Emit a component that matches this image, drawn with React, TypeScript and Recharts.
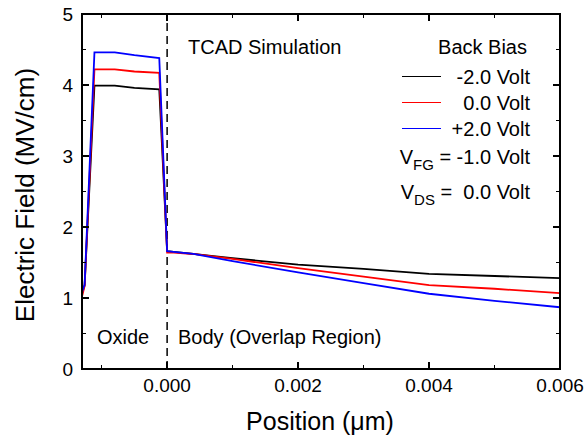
import { LineChart, Line, XAxis, YAxis, ReferenceLine } from "recharts";

// position in µm, field in MV/cm
const position = [
  -0.0013, -0.00126, -0.00111, -0.0008, -0.0005, -0.00012, 0, 0.0001, 0.0004,
  0.001, 0.002, 0.003, 0.004, 0.005, 0.006,
];
const biasMinus2 = [
  1.06, 1.18, 3.99, 3.99, 3.96, 3.94, 1.66, 1.65, 1.62, 1.56, 1.47, 1.41, 1.34,
  1.31, 1.28,
];
const bias0 = [
  1.02, 1.17, 4.22, 4.22, 4.19, 4.17, 1.64, 1.64, 1.62, 1.55, 1.42, 1.3, 1.18,
  1.13, 1.07,
];
const biasPlus2 = [
  1.08, 1.19, 4.46, 4.46, 4.42, 4.38, 1.66, 1.65, 1.62, 1.52, 1.36, 1.21, 1.06,
  0.96, 0.87,
];

const xTicks = [-0.001, 0, 0.001, 0.002, 0.003, 0.004, 0.005, 0.006];
const xLabeled = [0, 0.002, 0.004, 0.006];
const yTicks = [0, 0.5, 1, 1.5, 2, 2.5, 3, 3.5, 4, 4.5, 5];
const yLabeled = [0, 1, 2, 3, 4, 5];

const series = [
  { key: "m2", label: "-2.0 Volt", color: "#000000" },
  { key: "z0", label: "0.0 Volt", color: "#ff0000" },
  { key: "p2", label: "+2.0 Volt", color: "#0000ff" },
];

const data = position.map((x, i) => ({
  x,
  m2: biasMinus2[i],
  z0: bias0[i],
  p2: biasPlus2[i],
}));

const X_DOM = [-0.0013, 0.006];
const Y_DOM = [0, 5];
const W = 584;
const H = 439;
const M = { top: 14, right: 24, bottom: 0, left: 0 };
const Y_AXIS_W = 82;
const X_AXIS_H = 70;
const PLOT_L = M.left + Y_AXIS_W;
const PLOT_T = M.top;
const PLOT_W = W - M.left - M.right - Y_AXIS_W;
const PLOT_H = H - M.top - M.bottom - X_AXIS_H;
const PLOT_R = PLOT_L + PLOT_W;
const PLOT_B = PLOT_T + PLOT_H;

// same linear mapping as the chart axes, used for the boxed frame ticks
const sx = (v: number) => PLOT_L + ((v - X_DOM[0]) / (X_DOM[1] - X_DOM[0])) * PLOT_W;
const sy = (v: number) => PLOT_B - ((v - Y_DOM[0]) / (Y_DOM[1] - Y_DOM[0])) * PLOT_H;

const FONT = "'Liberation Sans', Arial, sans-serif";
const isIn = (list: number[], v: number) =>
  list.some((t) => Math.abs(t - v) < 1e-9);

const BottomLabel = ({ x, y, payload }: any) =>
  isIn(xLabeled, payload.value) ? (
    <text x={x} y={y + 23} textAnchor="middle" fontSize={19} fill="#000" fontFamily={FONT}>
      {payload.value.toFixed(3)}
    </text>
  ) : (
    <g />
  );

const LeftLabel = ({ x, y, payload }: any) =>
  isIn(yLabeled, payload.value) ? (
    <text x={x - 9} y={y + 7} textAnchor="end" fontSize={19} fill="#000" fontFamily={FONT}>
      {payload.value}
    </text>
  ) : (
    <g />
  );

const txt = (extra: React.CSSProperties): React.CSSProperties => ({
  position: "absolute",
  whiteSpace: "pre",
  lineHeight: 1,
  fontSize: 20,
  color: "#000",
  transform: "translateY(-50%)",
  ...extra,
});

const sub: React.CSSProperties = { fontSize: 15, position: "relative", top: 6 };

const bar = (left: number, top: number, width: number, height: number): React.CSSProperties => ({
  position: "absolute",
  left,
  top,
  width,
  height,
  background: "#000",
});

// box frame with inward ticks on all four sides
function Frame() {
  return (
    <>
      <div
        style={{
          position: "absolute",
          left: PLOT_L - 1,
          top: PLOT_T - 1,
          width: PLOT_W + 2,
          height: PLOT_H + 2,
          border: "2px solid #000",
          boxSizing: "border-box",
        }}
      />
      {xTicks.map((t) => {
        const len = isIn(xLabeled, t) ? 7 : 4;
        const x = sx(t) - 0.75;
        return (
          <div key={`x${t}`}>
            <div style={bar(x, PLOT_B - len, 1.5, len)} />
            <div style={bar(x, PLOT_T, 1.5, len)} />
          </div>
        );
      })}
      {yTicks.map((t) => {
        const len = isIn(yLabeled, t) ? 7 : 4;
        const y = sy(t) - 0.75;
        return (
          <div key={`y${t}`}>
            <div style={bar(PLOT_L, y, len, 1.5)} />
            <div style={bar(PLOT_R - len, y, len, 1.5)} />
          </div>
        );
      })}
    </>
  );
}

export default function App() {
  return (
    <div
      style={{
        position: "absolute",
        left: 0,
        top: 0,
        width: W,
        height: H,
        fontFamily: FONT,
      }}
    >
      <LineChart width={W} height={H} data={data} margin={M}>
        <XAxis
          dataKey="x"
          type="number"
          domain={X_DOM}
          allowDataOverflow
          ticks={xTicks}
          interval={0}
          height={X_AXIS_H}
          tickSize={0.01}
          tickMargin={0}
          tickLine={false}
          axisLine={false}
          tick={<BottomLabel />}
        />
        <YAxis
          type="number"
          domain={Y_DOM}
          allowDataOverflow
          ticks={yTicks}
          interval={0}
          width={Y_AXIS_W}
          tickSize={0.01}
          tickMargin={0}
          tickLine={false}
          axisLine={false}
          tick={<LeftLabel />}
        />

        <ReferenceLine x={0} stroke="#000" strokeWidth={1.5} strokeDasharray="8 5" />

        {series.map((s) => (
          <Line
            key={s.key}
            type="linear"
            dataKey={s.key}
            stroke={s.color}
            strokeWidth={1.8}
            dot={false}
            isAnimationActive={false}
          />
        ))}
      </LineChart>

      <Frame />

      {/* axis titles */}
      <div
        style={{
          position: "absolute",
          left: 25,
          top: 195,
          fontSize: 26,
          whiteSpace: "nowrap",
          lineHeight: 1,
          transform: "translate(-50%, -50%) rotate(-90deg)",
        }}
      >
        Electric Field (MV/cm)
      </div>
      <div
        style={{
          position: "absolute",
          left: 320,
          top: 421,
          fontSize: 25,
          whiteSpace: "nowrap",
          lineHeight: 1,
          transform: "translate(-50%, -50%)",
        }}
      >
        Position (μm)
      </div>

      {/* annotations */}
      <div style={txt({ left: 188, top: 47 })}>TCAD Simulation</div>
      <div style={txt({ left: 97, top: 337 })}>Oxide</div>
      <div style={txt({ left: 178, top: 337 })}>Body (Overlap Region)</div>

      {/* legend */}
      <div style={txt({ right: 57, top: 47 })}>Back Bias</div>
      {series.map((s, i) => (
        <div key={s.key}>
          <div
            style={{
              position: "absolute",
              left: 402,
              top: 76 + i * 26,
              width: 39,
              height: 0,
              borderTop: `1.6px solid ${s.color}`,
            }}
          />
          <div style={txt({ right: 54, top: 77 + i * 26 })}>{s.label}</div>
        </div>
      ))}
      <div style={txt({ right: 54, top: 157 })}>
        V<span style={sub}>FG</span> = -1.0 Volt
      </div>
      <div style={txt({ right: 54, top: 192 })}>
        V<span style={sub}>DS</span> =  0.0 Volt
      </div>
    </div>
  );
}
